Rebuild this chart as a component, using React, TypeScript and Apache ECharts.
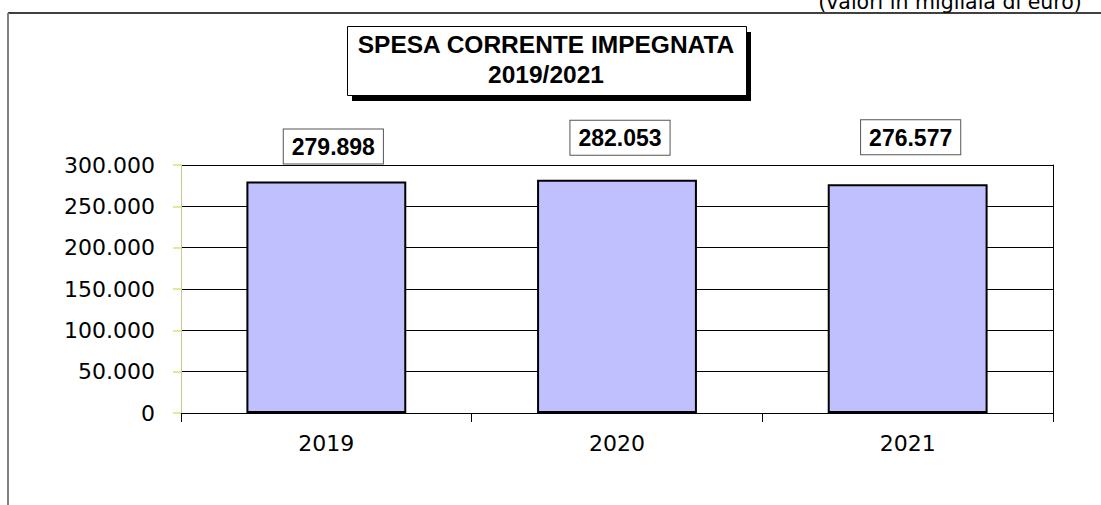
import React, { useEffect, useRef } from "react";
import * as echarts from "echarts";

const categories = ["2019", "2020", "2021"];
const values = [279898, 282053, 276577];
const chartTitle = ["SPESA CORRENTE IMPEGNATA", "2019/2021"];
const unitNote = "(valori in migliaia di euro)";
const yMin = 0;
const yMax = 300000;
const yStep = 50000;

const labelDistances = [18, 25, 30];
const labelShiftX = [7, 3, 3];

const fmt = (v: number) => {
  const s = Math.round(v).toString();
  return s.replace(/\B(?=(\d{3})+(?!\d))/g, ".");
};

export default function App() {
  const ref = useRef<HTMLDivElement>(null);
  useEffect(() => {
    if (!ref.current) return;
    const chart = echarts.init(ref.current, null, { renderer: "svg" });
    const axisFont = "'DejaVu Sans', Verdana, sans-serif";
    const boldFont = "'Liberation Sans', Arial, sans-serif";
    chart.setOption({
      animation: false,
      backgroundColor: "#ffffff",
      grid: { left: 181, top: 165, right: 48, bottom: 92, containLabel: false },
      xAxis: {
        type: "category",
        data: categories,
        boundaryGap: true,
        axisLine: { show: true, lineStyle: { color: "#000", width: 1 } },
        axisTick: { show: true, alignWithLabel: false, length: 9, lineStyle: { color: "#000" } },
        axisLabel: { color: "#000", fontSize: 22, fontFamily: axisFont, margin: 19 },
        splitLine: { show: false },
      },
      yAxis: [
        {
          type: "value",
          min: yMin,
          max: yMax,
          interval: yStep,
          axisLine: { show: true, lineStyle: { color: "#c8c890", width: 1 } },
          axisTick: { show: true, length: 8, lineStyle: { color: "#e0e070", width: 1.5 } },
          axisLabel: {
            color: "#000",
            fontSize: 22,
            fontFamily: axisFont,
            margin: 26,
            formatter: (v: number) => fmt(v),
          },
          splitLine: { show: true, lineStyle: { color: "#000", width: 1 } },
        },
        {
          type: "value",
          min: yMin,
          max: yMax,
          interval: yStep,
          position: "right",
          axisLine: { show: true, lineStyle: { color: "#000", width: 1 } },
          axisTick: { show: false },
          axisLabel: { show: false },
          splitLine: { show: false },
        },
      ],
      series: [
        {
          type: "bar",
          yAxisIndex: 0,
          barWidth: "55%",
          itemStyle: { color: "#c0c0ff", borderColor: "#000", borderWidth: 2 },
          data: values.map((v, i) => ({
            value: v,
            label: { distance: labelDistances[i], offset: [labelShiftX[i], 0] },
          })),
          label: {
            show: true,
            position: "top",
            formatter: (p: any) => fmt(p.value),
            color: "#000",
            fontWeight: "bold",
            fontSize: 23,
            fontFamily: boldFont,
            backgroundColor: "#fff",
            borderColor: "#555",
            borderWidth: 1,
            padding: [6, 8, 5, 8],
          },
        },
      ],
      graphic: [
        { type: "line", shape: { x1: 8, y1: 13, x2: 1101, y2: 13 }, style: { stroke: "#000", lineWidth: 1.5 } },
        { type: "line", shape: { x1: 8, y1: 13, x2: 8, y2: 505 }, style: { stroke: "#808080", lineWidth: 2 } },
        {
          type: "text",
          x: 950,
          y: 2,
          style: {
            text: unitNote,
            align: "center",
            verticalAlign: "middle",
            fontSize: 20.5,
            fontFamily: axisFont,
            fill: "#000",
          },
        },
        { type: "rect", shape: { x: 352, y: 32, width: 399, height: 69 }, style: { fill: "#000" } },
        { type: "rect", shape: { x: 347.5, y: 26.5, width: 399, height: 69 }, style: { fill: "#fff", stroke: "#000", lineWidth: 1 } },
        {
          type: "text",
          x: 546,
          y: 44,
          style: { text: chartTitle[0], align: "center", verticalAlign: "middle", fontSize: 24.5, fontWeight: "bold", fontFamily: boldFont, fill: "#000" },
        },
        {
          type: "text",
          x: 546,
          y: 74,
          style: { text: chartTitle[1], align: "center", verticalAlign: "middle", fontSize: 24.5, fontWeight: "bold", fontFamily: boldFont, fill: "#000" },
        },
      ],
    });
    return () => chart.dispose();
  }, []);
  return (
    <div
      ref={ref}
      style={{ position: "fixed", left: 0, top: 0, width: 1101, height: 505 }}
    />
  );
}
